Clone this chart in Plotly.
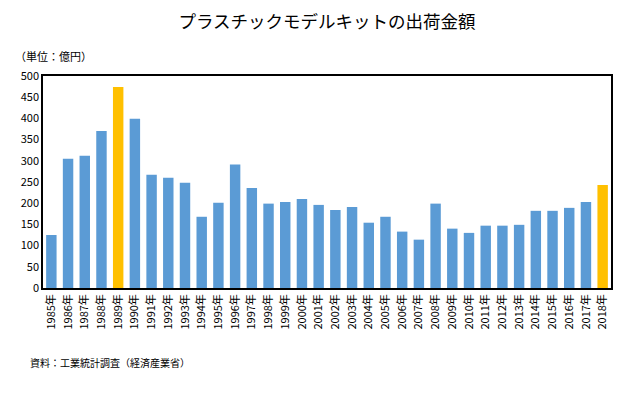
import plotly.graph_objects as go

years = [f"{y}年" for y in range(1985, 2019)]
values = [125, 305, 312, 370, 474, 399, 267, 260, 248, 168, 201, 291, 236, 199, 203, 210, 196,
          184, 191, 154, 168, 133, 114, 199, 140, 130, 147, 147, 149, 182, 182, 189, 203, 243]
highlight_years = ["1989年", "2018年"]
y_ticks = list(range(0, 501, 50))

BLUE = "#5B9BD5"
GOLD = "#FFC000"
colors = [GOLD if y in highlight_years else BLUE for y in years]

FONT = "Noto Sans CJK JP"
OFF = 8  # page body margin offset
W, H = 626 - OFF, 393 - OFF

fig = go.Figure(go.Bar(x=years, y=values, marker=dict(color=colors, line=dict(width=0))))

fig.update_layout(
    width=W, height=H,
    margin=dict(l=43 - OFF, r=15, t=76 - OFF, b=105, autoexpand=False),
    paper_bgcolor="white", plot_bgcolor="white",
    font=dict(family=FONT, size=11, color="black"),
    bargap=0.375,
    showlegend=False,
    title=dict(text="プラスチックモデルキットの出荷金額", x=0.5, xanchor="center",
               xref="paper", y=1 - (22 - OFF) / H, yref="container", yanchor="middle",
               font=dict(family=FONT, size=17.5, color="black")),
)
fig.update_xaxes(showline=True, linecolor="black", linewidth=1.5, mirror=True, automargin=False,
                 tickangle=-90, ticks="", tickfont=dict(size=11), showgrid=False)
fig.update_yaxes(range=[0, 500], tickvals=y_ticks, showline=True, linecolor="black", automargin=False,
                 linewidth=1.5, mirror=True, showgrid=False, ticks="", zeroline=False,
                 tickfont=dict(size=11))

fig.add_annotation(text="（単位：億円）", xref="paper", yref="paper", x=-30 / 568, y=1 + 20 / 212,
                   xanchor="left", yanchor="middle", showarrow=False, font=dict(size=11))
fig.add_annotation(text="資料：工業統計調査（経済産業省）", xref="paper", yref="paper",
                   x=-15 / 568, y=-74 / 212, xanchor="left", yanchor="middle", showarrow=False,
                   font=dict(size=10))

fig.write_html("out.html")
